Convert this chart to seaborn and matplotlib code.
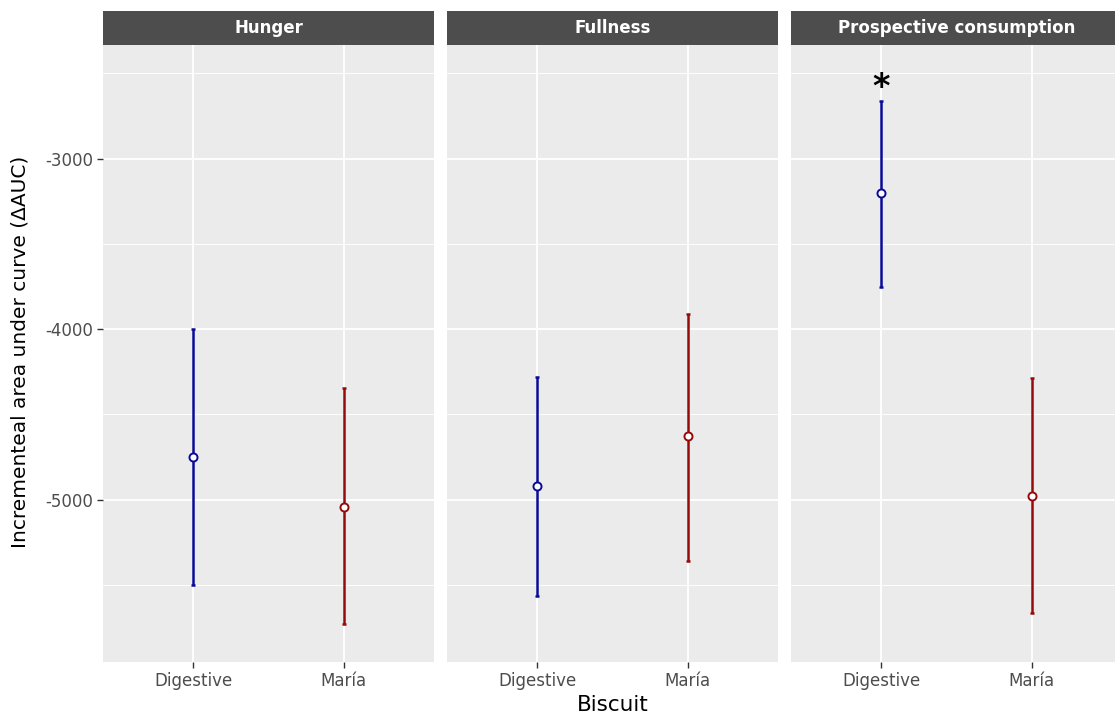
import numpy as np
import pandas as pd
import matplotlib
matplotlib.use("Agg")
import matplotlib.pyplot as plt
import seaborn as sns

measures = ["Hunger", "Fullness", "Prospective consumption"]
biscuits = ["Digestive", "María"]
means = [-4748, -5041, -4918, -4630, -3205, -4977]
lowers = [-5499, -5733, -5563, -5358, -3751, -5663]
uppers = [-4000, -4343, -4279, -3909, -2660, -4290]
significance = ["", "", "", "", "*", ""]
palette = {"Digestive": "#0A0A96", "María": "#960A0A"}
yticks = [-5000, -4000, -3000]
yminor = [-5500, -4500, -3500, -2500]

df = pd.DataFrame({
    "measure": np.repeat(measures, 2),
    "biscuit": biscuits * 3,
    "mean": means,
    "lower": lowers,
    "upper": uppers,
    "sig": significance,
})

sns.set_style("darkgrid", rc={
    "axes.facecolor": "#EBEBEB",
    "grid.color": "white",
    "axes.edgecolor": "#EBEBEB",
})
plt.rcParams["font.family"] = ["DejaVu Sans"]
plt.rcParams["axes.unicode_minus"] = False

W, H = 1115, 715
fig = plt.figure(figsize=(W / 100, H / 100), dpi=100)

for i, m in enumerate(measures):
    left = 103 + 344 * i
    ax = fig.add_axes([left / W, 53 / H, 331 / W, 617 / H])
    sub = df[df["measure"] == m].reset_index(drop=True)
    for j, row in sub.iterrows():
        ax.errorbar(j, row["mean"],
                    yerr=[[row["mean"] - row["lower"]], [row["upper"] - row["mean"]]],
                    fmt="none", ecolor=palette[row["biscuit"]], elinewidth=1.8,
                    capsize=1.6, capthick=1.8, zorder=3)
        if row["sig"]:
            ax.text(j, row["upper"] + 75, row["sig"], ha="center", va="center",
                    fontsize=24, fontweight="bold", color="black", zorder=5)
    sns.pointplot(data=sub, x="biscuit", y="mean", hue="biscuit", order=biscuits,
                  palette=palette, errorbar=None, linestyle="none", markers="o",
                  markersize=5.8, markerfacecolor="white", markeredgewidth=1.4,
                  legend=False, ax=ax, zorder=4)
    ax.set_xlim(-0.6, 1.6)
    ax.set_ylim(-5953, -2334)
    ax.set_yticks(yticks)
    ax.set_yticks(yminor, minor=True)
    ax.grid(True, which="major", axis="both", color="white", linewidth=1.3, zorder=0)
    ax.grid(True, which="minor", axis="y", color="white", linewidth=0.65, zorder=0)
    ax.set_axisbelow(True)
    ax.set_xlabel("")
    ax.set_ylabel("")
    for s in ax.spines.values():
        s.set_visible(False)
    ax.tick_params(axis="x", which="major", bottom=True, length=4, width=1.0,
                   color="#333333", labelsize=12, labelcolor="#4D4D4D", pad=3)
    ax.tick_params(axis="y", which="minor", left=False)
    if i == 0:
        ax.tick_params(axis="y", which="major", left=True, length=4, width=1.0,
                       color="#333333", labelsize=12, labelcolor="#4D4D4D", pad=3)
    else:
        ax.tick_params(axis="y", which="major", left=False, labelleft=False)

    sax = fig.add_axes([left / W, 670 / H, 331 / W, 34 / H])
    sax.set_facecolor("#4D4D4D")
    sax.set_xticks([])
    sax.set_yticks([])
    sax.grid(False)
    for s in sax.spines.values():
        s.set_visible(False)
    sax.text(0.5, 0.5, m, ha="center", va="center", color="white",
             fontsize=12, fontweight="bold", transform=sax.transAxes)

fig.text(20 / W, 1 - 352 / H, "Incrementeal area under curve (ΔAUC)",
         rotation=90, ha="center", va="center", fontsize=14.5, color="black")
fig.text(613 / W, 1 - 705 / H, "Biscuit", ha="center", va="center",
         fontsize=15.5, color="black")

fig.savefig("out.png", dpi=100)
